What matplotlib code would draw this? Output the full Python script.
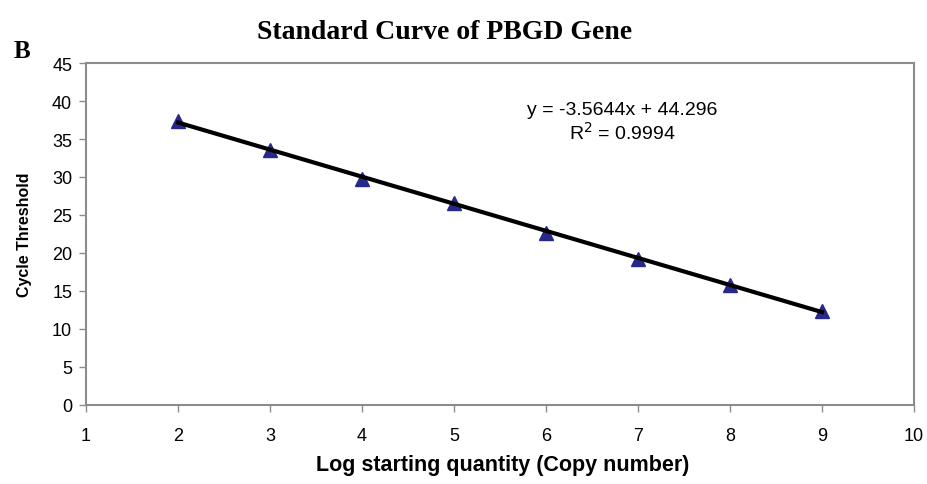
import matplotlib.pyplot as plt

# log starting quantity vs cycle threshold
log_qty = [2, 3, 4, 5, 6, 7, 8, 9]
ct = [37.4, 33.5, 29.8, 26.6, 22.6, 19.2, 15.8, 12.3]
slope = -3.5644
intercept = 44.296
r2 = 0.9994

fig = plt.figure(figsize=(9.28, 4.85), dpi=100)
ax = fig.add_axes([0.0927, 0.163, 0.8923, 0.705])

fit_x = [log_qty[0], log_qty[-1]]
fit_y = [slope * v + intercept for v in fit_x]
ax.plot(log_qty, ct, linestyle='none', marker='^', markersize=9.5,
        color='#28288a', zorder=2)
ax.plot(fit_x, fit_y, color='black', linewidth=3, zorder=3)

ax.set_xlim(1, 10)
ax.set_ylim(0, 45)
ax.set_xticks(range(1, 11))
ax.set_yticks(range(0, 46, 5))
for s in ax.spines.values():
    s.set_color('#8c8c8c')
    s.set_linewidth(1.5)
ax.tick_params(axis='both', colors='#8c8c8c', length=5, width=1,
               labelcolor='black', labelsize=13)
for lab in ax.get_xticklabels() + ax.get_yticklabels():
    lab.set_family('Liberation Sans')
ax.tick_params(axis='x', pad=11)
ax.tick_params(axis='y', pad=5)

ax.text(6.83, 38.9, 'y = -3.5644x + 44.296', ha='center', va='center',
        fontsize=14, family='Liberation Sans')
ax.text(6.83, 35.9, 'R$^2$ = %.4f' % r2, ha='center', va='center',
        fontsize=14, family='Liberation Sans')

fig.text(0.479, 0.934, 'Standard Curve of PBGD Gene', ha='center', va='center',
         fontsize=20, fontweight='bold', family='Liberation Serif')
fig.text(0.024, 0.893, 'B', ha='center', va='center',
         fontsize=18, fontweight='bold', family='Liberation Serif')
fig.text(0.026, 0.515, 'Cycle Threshold', rotation=90, ha='center', va='center',
         fontsize=11.5, fontweight='bold', family='Liberation Sans')
fig.text(0.542, 0.04, 'Log starting quantity (Copy number)', ha='center', va='center',
         fontsize=15.5, fontweight='bold', family='Liberation Sans')

fig.savefig('out.png', dpi=100)
